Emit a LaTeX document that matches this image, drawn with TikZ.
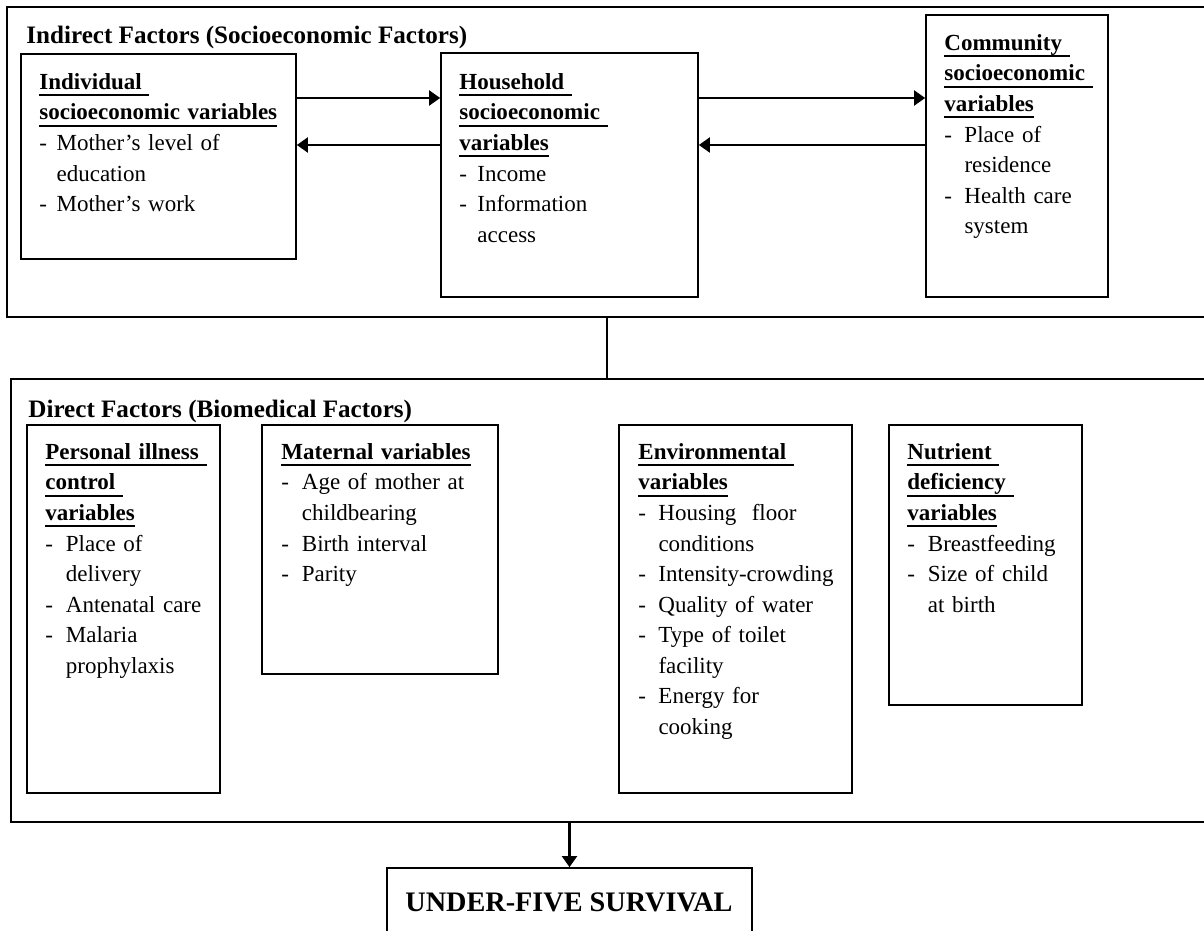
\documentclass[tikz,border=0pt]{standalone}
\usepackage{fontspec}
\setmainfont{Liberation Serif}
\usetikzlibrary{arrows.meta,fit}

\setlength{\parindent}{0pt}
\setlength{\parskip}{0pt}

\newcommand{\bodyfont}{\fontsize{11}{14.6}\selectfont}
% underlined bold heading line (fixed underline depth)
\newsavebox{\hdbox}
\newcommand{\hd}[1]{\leavevmode\sbox{\hdbox}{\bfseries #1}\rlap{\rule[-3.15pt]{\wd\hdbox}{0.9pt}}\usebox{\hdbox}}
% dash item with hanging indent
\newcommand{\vitem}[2][9.8pt]{\par\noindent\hangindent=#1\hangafter=1\makebox[#1][l]{-}#2}

\begin{document}
\begin{tikzpicture}[
    x=0.478pt, y=-0.478pt,
    outerbox/.style={draw, line width=1pt, inner sep=0pt},
    varbox/.style={draw, line width=0.8pt, inner sep=0pt},
    vartext/.style={anchor=north west, inner sep=0pt, align=left, font=\bodyfont},
    heading/.style={anchor=base west, inner sep=0pt, font=\fontsize{12}{14}\selectfont\bfseries},
    arrow/.style={-{Triangle[length=5.3pt, width=7.2pt]}, line width=1pt},
    link/.style={line width=1pt}
]
\useasboundingbox (0,0) rectangle (1204,931);
\clip (0,0) rectangle (1204,931);

% Indirect factors
\node[outerbox, fit={(7,7) (1220,317)}] (indirect) {};
\node[heading] (indtitle) at (26,44) {Indirect Factors (Socioeconomic Factors)};

\node[varbox, fit={(21,54) (296,259)}] (indiv) {};
\node[varbox, fit={(441,53) (698,297)}] (house) {};
\node[varbox, fit={(926,15) (1108,297)}] (comm) {};

\node[vartext, text width=123pt] (indivtext) at (39,67.6) {\strut\hd{Individual\ }\newline\hd{socioeconomic variables}
  \vitem[8.2pt]{Mother’s level of\newline education}
  \vitem[8.2pt]{Mother’s work}\par};
\node[vartext, text width=114pt] (housetext) at (459,67.6) {\strut\hd{Household\ }\newline\hd{socioeconomic\ }\newline\hd{variables}
  \vitem[8.6pt]{Income}
  \vitem[8.6pt]{Information\newline access}\par};
\node[vartext, text width=78pt] (commtext) at (944,28.6) {\strut\hd{Community\ }\newline\hd{socioeconomic\ }\newline\hd{variables}
  \vitem[9.6pt]{Place of\newline residence}
  \vitem[9.6pt]{Health care\newline system}\par};

% Direct factors
\node[outerbox, fit={(11,379) (1220,822)}] (direct) {};
\node[heading] (dirtitle) at (28,417) {Direct Factors (Biomedical Factors)};

\node[varbox, fit={(27,425) (220,793)}] (personal) {};
\node[varbox, fit={(262,425) (498,674)}] (maternal) {};
\node[varbox, fit={(619,425) (852,793)}] (environ) {};
\node[varbox, fit={(889,425) (1082,705)}] (nutrient) {};

\node[vartext, text width=84pt] (personaltext) at (45,437.6) {\strut\hd{Personal illness\ }\newline\hd{control\ }\newline\hd{variables}
  \vitem{Place of\newline delivery}
  \vitem{Antenatal care}
  \vitem{Malaria\newline prophylaxis}\par};
\node[vartext, text width=104pt] (maternaltext) at (281,437.6) {\strut\hd{Maternal variables}
  \vitem{Age of mother at\newline childbearing}
  \vitem{Birth interval}
  \vitem{Parity}\par};
\node[vartext, text width=102pt] (environtext) at (638,437.6) {\strut\hd{Environmental\ }\newline\hd{variables}
  \vitem[9.6pt]{Housing\ \ floor\newline conditions}
  \vitem[9.6pt]{Intensity-crowding}
  \vitem[9.6pt]{Quality of water}
  \vitem[9.6pt]{Type of toilet\newline facility}
  \vitem[9.6pt]{Energy for\newline cooking}\par};
\node[vartext, text width=84pt] (nutrienttext) at (907,437.6) {\strut\hd{Nutrient\ }\newline\hd{deficiency\ }\newline\hd{variables}
  \vitem{Breastfeeding}
  \vitem{Size of child\newline at birth}\par};

% Outcome
\node[varbox, fit={(387,868) (752,945)}] (outcome) {};
\node[anchor=base, inner sep=0pt, font=\fontsize{13.5}{16}\selectfont\bfseries] (outcometext) at (569,911) {UNDER-FIVE SURVIVAL};

% Connections
\coordinate (fwd) at (0,98);
\coordinate (bwd) at (0,145);
\coordinate (joint) at (607,0);
\draw[arrow] (indiv.east |- fwd) -- (house.west |- fwd);
\draw[arrow] (house.east |- fwd) -- (comm.west |- fwd);
\draw[arrow] (comm.west |- bwd) -- (house.east |- bwd);
\draw[arrow] (house.west |- bwd) -- (indiv.east |- bwd);
\draw[link] (indirect.south -| joint) -- (direct.north -| joint);
\draw[arrow] (direct.south -| outcome.north) -- (outcome.north);

\end{tikzpicture}
\end{document}
